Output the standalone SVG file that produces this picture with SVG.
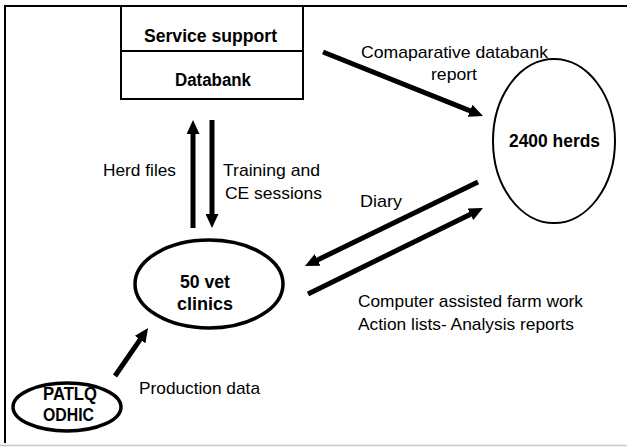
<svg xmlns="http://www.w3.org/2000/svg" width="627" height="447" viewBox="0 0 627 447">
<style>
text{font-family:"Liberation Sans",Arial,sans-serif;fill:#000}
.b{font-weight:bold;font-size:17.5px}
.r{font-size:17px}
.c{text-anchor:middle}
.e{text-anchor:end}
.conn{stroke:#000;stroke-width:5;fill:none;marker-end:url(#ah)}
</style>
<defs>
<marker id="ah" markerUnits="userSpaceOnUse" markerWidth="14" markerHeight="13" viewBox="0 0 14 13" refX="3" refY="6.5" orient="auto">
<path d="M0,0 L14,6.5 L0,13 z" fill="#000"/>
</marker>
</defs>
<rect width="627" height="447" fill="#fff"/>
<g id="frame">
<path d="M5,443 V6 H627" fill="none" stroke="#000" stroke-width="2"/>
<line x1="0" y1="445.5" x2="627" y2="445.5" stroke="#c8c8c8" stroke-width="1.5"/>
</g>
<g id="service">
<rect x="121" y="6" width="182" height="93" fill="#fff" stroke="#000" stroke-width="2"/>
<line x1="121" y1="51" x2="303" y2="51" stroke="#000" stroke-width="2"/>
<text class="b c" x="210.5" y="42" textLength="133" lengthAdjust="spacingAndGlyphs">Service support</text>
<text class="b c" x="213" y="86" textLength="76" lengthAdjust="spacingAndGlyphs">Databank</text>
</g>
<g id="herds">
<ellipse cx="554" cy="141" rx="61" ry="82" fill="#fff" stroke="#000" stroke-width="2"/>
<text class="b c" x="554.5" y="147" textLength="91" lengthAdjust="spacingAndGlyphs">2400 herds</text>
</g>
<g id="clinics">
<ellipse cx="209" cy="284" rx="74" ry="44" fill="#fff" stroke="#000" stroke-width="3.5"/>
<text class="b c" x="205" y="288" textLength="50" lengthAdjust="spacingAndGlyphs">50 vet</text>
<text class="b c" x="205" y="310" textLength="56" lengthAdjust="spacingAndGlyphs">clinics</text>
</g>
<g id="patlq">
<ellipse cx="67" cy="407" rx="54" ry="24" fill="#fff" stroke="#000" stroke-width="3.5"/>
<text class="b c" x="70" y="400" font-size="15.5" textLength="54" lengthAdjust="spacingAndGlyphs">PATLQ</text>
<text class="b c" x="68.5" y="421" font-size="15.5" textLength="51" lengthAdjust="spacingAndGlyphs">ODHIC</text>
</g>
<g id="connectors">
<line class="conn" x1="323" y1="52" x2="472.8" y2="111.9"/>
<line class="conn" x1="193" y1="228" x2="193" y2="131"/>
<line class="conn" x1="212" y1="120" x2="212" y2="217"/>
<line class="conn" x1="478" y1="182" x2="314.9" y2="261.2"/>
<line class="conn" x1="308" y1="294" x2="473.1" y2="212.9"/>
<line class="conn" x1="115" y1="376" x2="141.8" y2="337.1"/>
</g>
<g id="labels">
<text class="r c" x="454.5" y="58" textLength="187" lengthAdjust="spacingAndGlyphs">Comaparative databank</text>
<text class="r c" x="454" y="80" textLength="46" lengthAdjust="spacingAndGlyphs">report</text>
<text class="r e" x="176" y="176" textLength="73" lengthAdjust="spacingAndGlyphs">Herd files</text>
<text class="r" x="223" y="176" textLength="97" lengthAdjust="spacingAndGlyphs">Training and</text>
<text class="r" x="225" y="199" textLength="97" lengthAdjust="spacingAndGlyphs">CE sessions</text>
<text class="r" x="360" y="207" textLength="42" lengthAdjust="spacingAndGlyphs">Diary</text>
<text class="r" x="358" y="307" textLength="225" lengthAdjust="spacingAndGlyphs">Computer assisted farm work</text>
<text class="r" x="358" y="330" textLength="216" lengthAdjust="spacingAndGlyphs">Action lists- Analysis reports</text>
<text class="r" x="139" y="394" textLength="121" lengthAdjust="spacingAndGlyphs">Production data</text>
</g>
</svg>
